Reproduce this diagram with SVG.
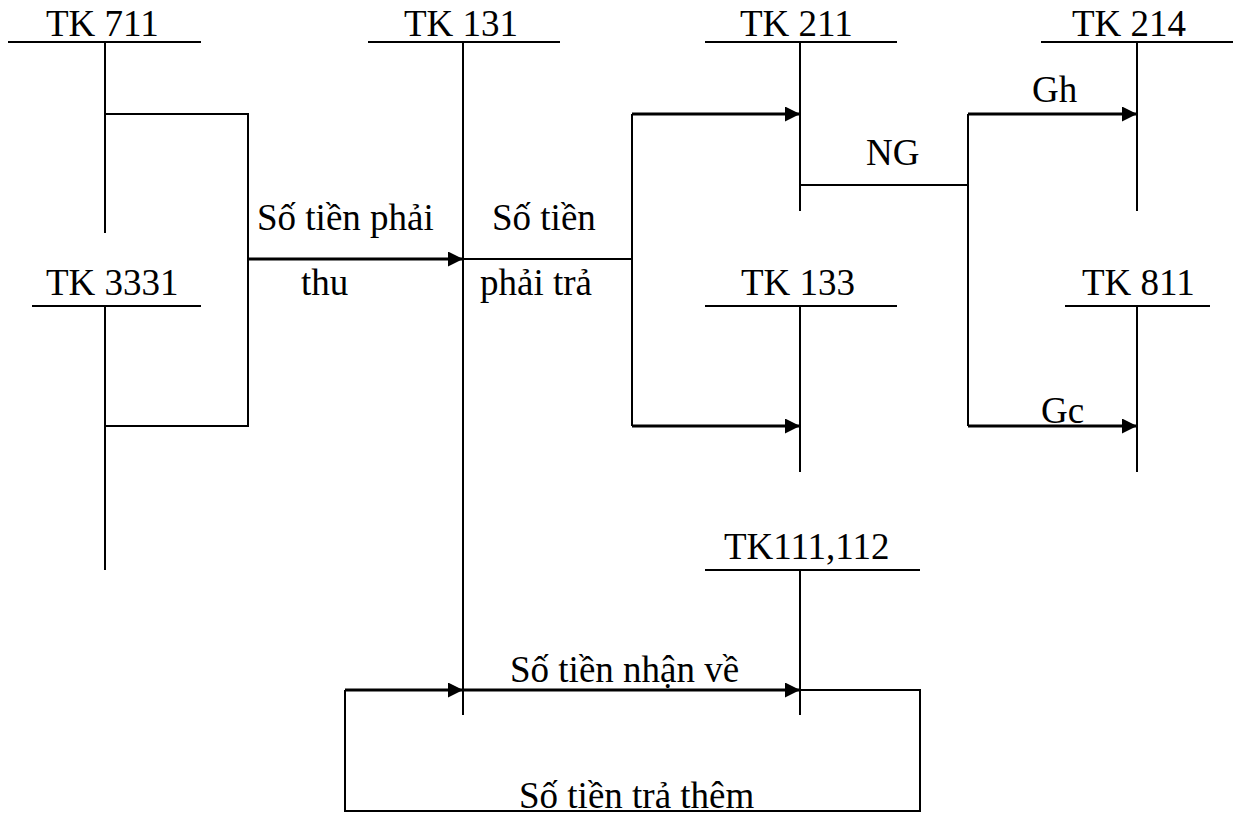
<svg xmlns="http://www.w3.org/2000/svg" width="1235" height="816" viewBox="0 0 1235 816">
  <style>
    .acct { stroke: #000; stroke-width: 2; fill: none; }
    .link { stroke: #000; stroke-width: 2; fill: none; }
    .arrow { stroke: #000; stroke-width: 3; fill: none; marker-end: url(#head); }
    text { font-family: "Liberation Serif", "Times New Roman", serif; font-size: 37px; fill: #000; }
  </style>
  <defs>
    <marker id="head" markerUnits="userSpaceOnUse" markerWidth="16" markerHeight="15" refX="15" refY="7.5" orient="auto">
      <path d="M0,0 L15,7.5 L0,15 Z" fill="#000"/>
    </marker>
  </defs>
  <rect width="1235" height="816" fill="#fff"/>

  <!-- T-accounts -->
  <g id="tk711">
    <line class="acct" x1="8" y1="42" x2="201" y2="42"/>
    <line class="acct" x1="105" y1="42" x2="105" y2="233"/>
    <text x="46" y="36">TK 711</text>
  </g>
  <g id="tk3331">
    <line class="acct" x1="32" y1="306" x2="201" y2="306"/>
    <line class="acct" x1="105" y1="306" x2="105" y2="570"/>
    <text x="46" y="295">TK 3331</text>
  </g>
  <g id="tk131">
    <line class="acct" x1="368" y1="42" x2="560" y2="42"/>
    <line class="acct" x1="463" y1="42" x2="463" y2="715"/>
    <text x="404" y="36">TK 131</text>
  </g>
  <g id="tk211">
    <line class="acct" x1="705" y1="42" x2="897" y2="42"/>
    <line class="acct" x1="800" y1="42" x2="800" y2="211"/>
    <text x="740" y="36">TK 211</text>
  </g>
  <g id="tk214">
    <line class="acct" x1="1041" y1="42" x2="1233" y2="42"/>
    <line class="acct" x1="1137" y1="42" x2="1137" y2="211"/>
    <text x="1072" y="36">TK 214</text>
  </g>
  <g id="tk133">
    <line class="acct" x1="705" y1="306" x2="897" y2="306"/>
    <line class="acct" x1="800" y1="306" x2="800" y2="472"/>
    <text x="741" y="295">TK 133</text>
  </g>
  <g id="tk811">
    <line class="acct" x1="1065" y1="306" x2="1210" y2="306"/>
    <line class="acct" x1="1137" y1="306" x2="1137" y2="472"/>
    <text x="1082" y="295">TK 811</text>
  </g>
  <g id="tk111-112">
    <line class="acct" x1="705" y1="570" x2="920" y2="570"/>
    <line class="acct" x1="800" y1="570" x2="800" y2="715"/>
    <text x="724" y="559">TK111,112</text>
  </g>

  <!-- Connectors -->
  <g id="connectors">
    <polyline class="link" points="105,114 248,114 248,426 105,426"/>
    <line class="arrow" x1="248" y1="259" x2="463" y2="259"/>
    <line class="link" x1="463" y1="259" x2="632" y2="259" stroke-width="1.5"/>
    <line class="link" x1="632" y1="114" x2="632" y2="426"/>
    <line class="arrow" x1="632" y1="114" x2="800" y2="114"/>
    <line class="arrow" x1="632" y1="426" x2="800" y2="426"/>
    <line class="link" x1="800" y1="185" x2="968" y2="185" stroke-width="1.5"/>
    <line class="link" x1="968" y1="114" x2="968" y2="426"/>
    <line class="arrow" x1="968" y1="114" x2="1137" y2="114"/>
    <line class="arrow" x1="968" y1="426" x2="1137" y2="426"/>
    <line class="arrow" x1="345" y1="690" x2="463" y2="690"/>
    <line class="arrow" x1="463" y1="690" x2="800" y2="690"/>
    <polyline class="link" points="800,690 920,690 920,811 345,811 345,690"/>
  </g>

  <!-- Labels -->
  <g id="labels">
    <text x="257" y="230">Số tiền phải</text>
    <text x="301" y="295">thu</text>
    <text x="492" y="230">Số tiền</text>
    <text x="480" y="295">phải trả</text>
    <text x="866" y="165">NG</text>
    <text x="1032" y="102">Gh</text>
    <text x="1041" y="423">Gc</text>
    <text x="510" y="682">Số tiền nhận về</text>
    <text x="519" y="808">Số tiền trả thêm</text>
  </g>
</svg>
